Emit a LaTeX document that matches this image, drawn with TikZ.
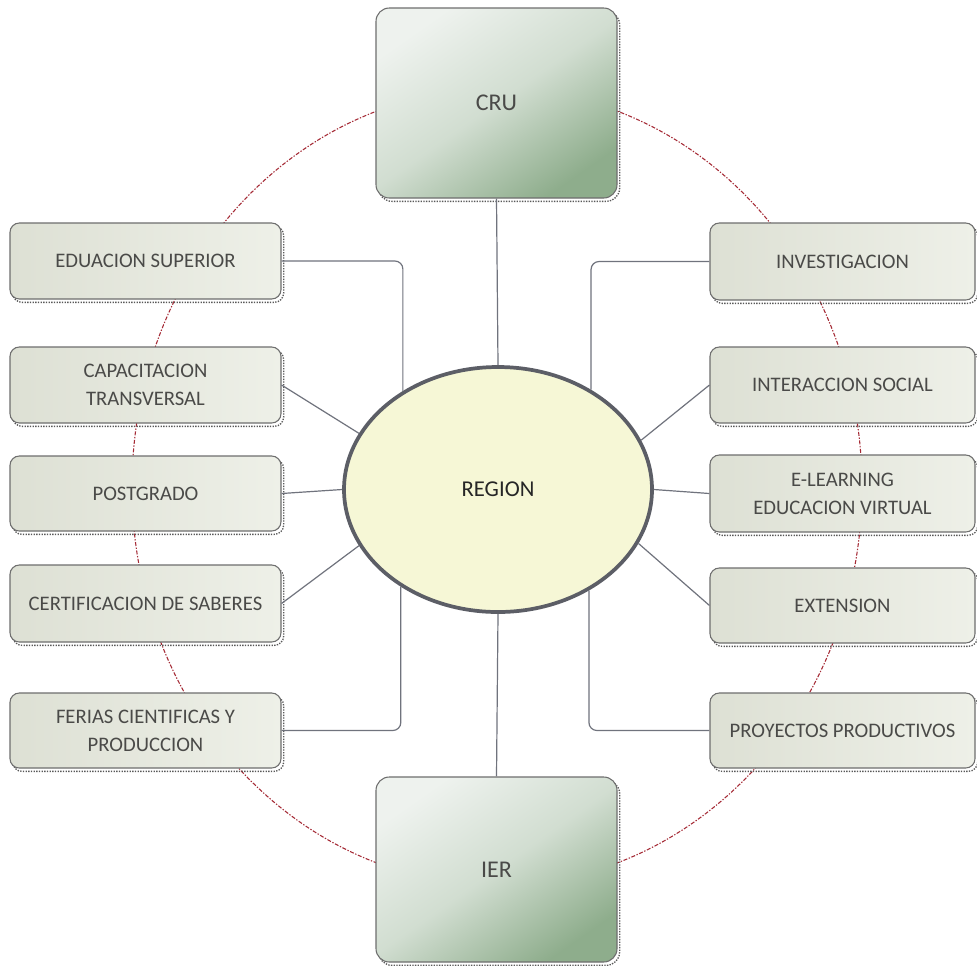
\documentclass[tikz,border=0pt]{standalone}
\usepackage{fontspec}
\setmainfont{Carlito}
\usetikzlibrary{shapes.geometric,shadows}
\definecolor{boxline}{HTML}{6E6E6E}
\definecolor{boxA}{HTML}{DDE0D4}
\definecolor{boxB}{HTML}{EEF0E8}
\definecolor{bigA}{HTML}{EEF2EE}
\definecolor{bigB}{HTML}{8EAD8C}
\definecolor{txt}{HTML}{4A4A48}
\definecolor{conn}{HTML}{70737D}
\definecolor{ringred}{HTML}{A52A35}
\definecolor{regfill}{HTML}{F6F7D6}
\definecolor{regline}{HTML}{5C5E66}
\tikzset{
  dotshadow/.style={drop shadow={shadow xshift=2pt, shadow yshift=-2.5pt, fill=none, draw=black!65, densely dotted, line width=1pt, opacity=1}},
  smallbox/.style={draw=boxline, line width=0.8pt, rounded corners=7pt, left color=boxA, right color=boxB,
    minimum height={#1*0.75pt}, inner sep=0pt, align=center, text=txt,
    font=\fontsize{15.5}{21}\selectfont, dotshadow},
  leftbox/.style={smallbox=#1, minimum width={271*0.75pt}},
  rightbox/.style={smallbox=#1, minimum width={265*0.75pt}},
  bigbox/.style={draw=boxline, line width=0.8pt, rounded corners=10pt, shading=axis, top color=bigA, bottom color=bigB,
    middle color=bigA!70!bigB, shading angle=35, minimum width={241*0.75pt}, minimum height={#1*0.75pt},
    text=txt, font=\fontsize{18}{22}\selectfont, dotshadow},
  regbox/.style={ellipse, draw=regline, line width=2.8pt, fill=regfill, minimum width={308*0.75pt},
    minimum height={245*0.75pt}, inner sep=0pt, text=black!85, font=\fontsize{17}{20}\selectfont},
  link/.style={draw=conn, line width=0.9pt},
  ring/.style={draw=ringred, line width=0.8pt, dash pattern=on 3pt off 1.2pt on 1pt off 1.2pt}
}
\begin{document}
\begin{tikzpicture}[x=0.75pt,y=-0.75pt]
\useasboundingbox (0,0) rectangle (977,965);
\fill[white] (0,0) rectangle (977,965);
% red ring
\draw[ring] (497,487) ellipse [x radius=273.75pt, y radius=298.5pt];
% nodes
\node[regbox] (reg) at (498,489.5) {REGION};
\node[bigbox=190] (cru) at (496.5,103) {CRU};
\node[bigbox=185] (ier) at (496.5,869.5) {IER};
\node[leftbox=76] (edu) at (145.5,261) {EDUACION SUPERIOR};
\node[leftbox=76] (cap) at (145.5,385) {CAPACITACION\\TRANSVERSAL};
\node[leftbox=75] (post) at (145.5,493.5) {POSTGRADO};
\node[leftbox=77] (cert) at (145.5,603.5) {CERTIFICACION DE SABERES};
\node[leftbox=75] (fer) at (145.5,730.5) {FERIAS CIENTIFICAS Y\\PRODUCCION};
\node[rightbox=77] (inv) at (842.5,261.5) {INVESTIGACION};
\node[rightbox=76] (int) at (842.5,385) {INTERACCION SOCIAL};
\node[rightbox=77] (ele) at (842.5,493.5) {E-LEARNING\\EDUCACION VIRTUAL};
\node[rightbox=75] (ext) at (842.5,605.5) {EXTENSION};
\node[rightbox=75] (pro) at (842.5,730.5) {PROYECTOS PRODUCTIVOS};
% connectors
\draw[link] (cru.south) -- (reg.north);
\draw[link] (ier.north) -- (reg.south);
\draw[link, rounded corners=6pt] (edu.east) -| (reg.134.5);
\draw[link] (cap.east) -- (reg.158);
\draw[link] (post.east) -- (reg.180);
\draw[link] (cert.east) -- (reg.202);
\draw[link, rounded corners=6pt] (fer.east) -| (reg.225.5);
\draw[link, rounded corners=6pt] (inv.west) -| (reg.47.8);
\draw[link] (int.west) -- (reg.19);
\draw[link] (ele.west) -- (reg.0);
\draw[link] (ext.west) -- (reg.-21);
\draw[link, rounded corners=6pt] (pro.west) -| (reg.-48.8);
\end{tikzpicture}
\end{document}
